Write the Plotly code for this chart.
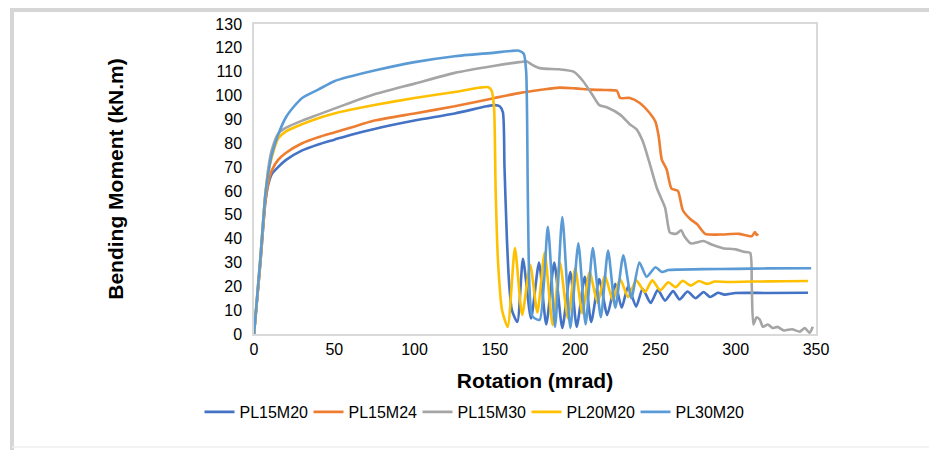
import plotly.graph_objects as go

# ---------------- data ----------------
names = ["PL15M20", "PL15M24", "PL15M30", "PL20M20", "PL30M20"]
colors = ["#4472C4", "#ED7D31", "#A5A5A5", "#FFC000", "#5B9BD5"]

pl15m20_x = [0, 4, 7, 9, 11, 15, 20, 30, 40, 50, 60, 75, 100, 125, 145, 150, 153, 155, 156, 157.5, 159,
             160.6, 164, 167.5, 172.5, 177.5, 182, 187, 192, 197, 201, 206, 210, 215, 220, 225, 229, 233,
             238, 242, 247, 251.5, 256, 261, 265, 270, 275, 280, 284, 289, 293, 300, 320, 345]
pl15m20_y = [0, 30, 55, 63, 67, 70, 73, 77, 79.5, 81.5, 83.5, 86, 89.5, 92.5, 95.5, 96, 95.5, 93, 70, 40, 20,
             10, 5, 31.5, 6.5, 30, 4, 30, 2.5, 26, 3, 24, 5, 23, 8, 21, 11, 20,
             11.5, 19, 13, 18.5, 14, 18, 14.5, 17.8, 15, 17.6, 15.5, 17.3, 16.5, 17.2, 17.2, 17.3]

pl15m24_x = [0, 4, 7, 9, 11, 15, 20, 30, 40, 50, 60, 75, 100, 125, 150, 165, 180, 190, 200, 210, 220, 226,
             228, 234, 240, 246, 250, 252, 254, 257, 260, 264, 267, 272, 276, 281, 290, 302, 310, 312, 313, 314]
pl15m24_y = [0, 30, 55, 64, 68.5, 73, 76, 80, 82.5, 84.5, 86.5, 89.5, 92.5, 95.5, 99, 101, 102.5, 103.3, 103,
             102.5, 102.3, 102, 99, 99, 97, 93, 89, 83, 73, 69, 61, 60, 52, 48, 46, 42, 41.7, 42, 41, 42.8,
             41.5, 42]

pl15m30_x = [0, 4, 7, 9, 11, 15, 20, 30, 40, 50, 60, 75, 100, 125, 150, 165, 170, 173, 178, 190, 199, 205,
             211, 215, 220, 228, 234, 238, 242, 246, 251, 256, 258, 259, 263, 266, 268, 272, 280, 285, 292,
             300, 305, 309, 310, 311, 313, 315, 317, 320, 323, 326, 330, 335, 340, 343, 346, 348]
pl15m30_y = [0, 32, 58, 70, 77, 84, 86.5, 89.5, 92, 94.5, 97, 100.5, 105, 109.5, 112.5, 114, 114.3, 113,
             111.5, 111, 110, 106, 100, 96, 95, 92, 88, 86, 81, 72.5, 61, 53, 45, 42.5, 42, 43.5, 41, 38,
             39, 37.5, 36, 35.5, 34.5, 34, 20, 4, 7, 6, 3, 4, 2.5, 3, 1.5, 2, 1, 2.5, 0.5, 3]

pl20m20_x = [0, 4, 7, 9, 11, 15, 20, 30, 40, 50, 60, 75, 100, 125, 140, 146, 148, 149.5, 150.5, 152, 154.5,
             158, 162.5, 167, 172, 176.5, 181, 186, 190.5, 195.5, 200, 204.5, 209, 214, 218.5, 223.5, 228,
             233, 238, 243.5, 248, 253, 258, 262.5, 267, 272, 277, 282, 287, 295, 310, 330, 345]
pl20m20_y = [0, 32, 58, 68, 74, 82, 85, 88, 90.5, 92.5, 94, 96, 99, 101.5, 103.3, 103.5, 102, 95, 60, 30,
             10, 3, 36, 8, 29, 9, 34, 3.7, 30, 6.6, 27.5, 8.7, 26, 13, 24.6, 14, 23, 15.5, 22.5, 17.6,
             22.5, 18.3, 21.7, 19.6, 22.3, 20.3, 22.2, 21, 22, 21.8, 22, 22.1, 22.2]

pl30m20_x = [0, 4, 7, 9, 11, 15, 20, 25, 30, 40, 50, 60, 75, 100, 125, 150, 160, 165, 168, 169.5, 170.5,
             171.5, 173, 175, 178, 183, 187.5, 192, 197, 202, 206.5, 211, 216, 220.5, 225, 230, 235, 240,
             244.5, 250, 254, 258, 265, 280, 300, 320, 347]
pl30m20_y = [0, 32, 58, 68, 75, 83.5, 91, 95.5, 99, 102.5, 106, 108, 110.5, 114, 116.5, 118, 118.7, 118.8,
             117.5, 110, 60, 20, 8, 6.5, 6, 45, 3, 49, 2.5, 38, 4, 36, 7, 35, 11, 33, 15, 30, 24, 28, 26,
             26.8, 27, 27.2, 27.3, 27.5, 27.6]

x_ticks = [0, 50, 100, 150, 200, 250, 300, 350]
y_ticks = list(range(0, 131, 10))

series_x = [pl15m20_x, pl15m24_x, pl15m30_x, pl20m20_x, pl30m20_x]
series_y = [pl15m20_y, pl15m24_y, pl15m30_y, pl20m20_y, pl30m20_y]

# ---------------- figure ----------------
# the page body adds an 8px margin, so the figure is drawn 8px in from the window edge
OFF = 8
W, H = 937 - OFF, 450 - OFF
L, R, T, B = 254 - OFF, 121, 24 - OFF, 116
pw, ph = W - L - R, H - T - B

def px_x(p):  # window pixel -> paper fraction
    return (p - OFF - L) / pw

def px_y(p):
    return (H - B - (p - OFF)) / ph

fig = go.Figure()
for n, c, xs, ys in zip(names, colors, series_x, series_y):
    fig.add_trace(go.Scatter(x=xs, y=ys, mode="lines", name=n,
                             line=dict(color=c, width=2.6, shape="spline", smoothing=0.6)))

font_family = "Liberation Sans, Arial, sans-serif"

frame = [
    # top band
    dict(type="line", xref="paper", yref="paper", x0=px_x(10), x1=px_x(990), y0=px_y(10), y1=px_y(10),
         line=dict(color="#D6D6D6", width=4), layer="below"),
    # left band
    dict(type="line", xref="paper", yref="paper", x0=px_x(12), x1=px_x(12), y0=px_y(8), y1=px_y(500),
         line=dict(color="#D6D6D6", width=4), layer="below"),
    # faint bottom line
    dict(type="line", xref="paper", yref="paper", x0=px_x(12), x1=px_x(990), y0=px_y(447), y1=px_y(447),
         line=dict(color="#EEEEEE", width=1.5), layer="below"),
]

fig.update_layout(
    width=W, height=H,
    margin=dict(l=L, r=R, t=T, b=B, pad=0, autoexpand=False),
    paper_bgcolor="white", plot_bgcolor="white",
    font=dict(family=font_family, size=16, color="#000000"),
    showlegend=True,
    legend=dict(orientation="h", x=px_x(472), xanchor="center", y=px_y(412), yanchor="middle",
                font=dict(size=16, color="#000000"), itemwidth=30, entrywidth=64,
                entrywidthmode="pixels", tracegroupgap=0, bgcolor="rgba(0,0,0,0)"),
    xaxis=dict(range=[0, 350], tickvals=x_ticks, showgrid=False, zeroline=False,
               showline=True, linecolor="#D9D9D9", linewidth=1.5, mirror=True,
               ticks="", ticklabelstandoff=0, tickfont=dict(size=16),
               title=dict(text="<b>Rotation (mrad)</b>", font=dict(size=21), standoff=16)),
    yaxis=dict(range=[0, 130], tickvals=y_ticks, showgrid=False, zeroline=False,
               showline=True, linecolor="#D9D9D9", linewidth=1.5, mirror=True,
               ticks="", ticklabelstandoff=7, tickfont=dict(size=16),
               title=dict(text="<b>Bending Moment (kN.m)</b>", font=dict(size=21), standoff=86)),
    shapes=frame,
)

fig.write_html("out.html")
